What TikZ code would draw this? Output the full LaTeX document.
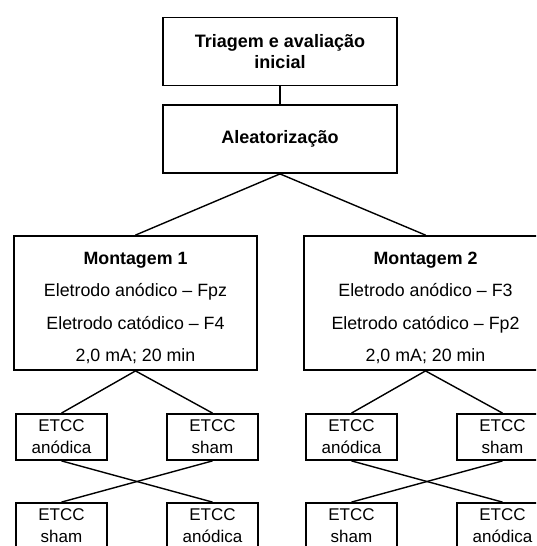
\documentclass[tikz,border=0pt]{standalone}
\usepackage{fontspec}
\setmainfont{Liberation Sans}
\begin{document}
\begin{tikzpicture}[x=1pt,y=-1pt,
  box/.style={draw=black, line width=1.8pt, rectangle, inner sep=0pt, align=center},
  headbox/.style={box, minimum width=234pt, minimum height=68pt, font=\fontsize{18}{21}\selectfont\bfseries},
  mbox/.style={box, minimum width=243pt, minimum height=134pt, font=\fontsize{17.8}{32.5}\selectfont},
  sbox/.style={box, minimum width=91pt, minimum height=46pt, font=\fontsize{17}{22}\selectfont},
  conn/.style={line width=1.4pt}]
\useasboundingbox (0,0) rectangle (536,546);
\clip (0,0) rectangle (536,546);
\node[headbox] (top) at (280,51.5) {Triagem e avaliação\\inicial};
\node[headbox] (ale) at (280,139) {Aleatorização};
\node[mbox] (m1) at (135.5,303) {\rule{0pt}{22pt}\textbf{Montagem 1}\\Eletrodo anódico – Fpz\\Eletrodo catódico – F4\\2,0 mA; 20 min};
\node[mbox] (m2) at (425.5,303) {\rule{0pt}{22pt}\textbf{Montagem 2}\\Eletrodo anódico – F3\\Eletrodo catódico – Fp2\\2,0 mA; 20 min};
\node[sbox] (a1) at (61.5,437) {ETCC\\anódica};
\node[sbox] (s1) at (212.5,437) {ETCC\\sham};
\node[sbox] (s1b) at (61.5,526) {ETCC\\sham};
\node[sbox] (a1b) at (212.5,526) {ETCC\\anódica};
\node[sbox] (a2) at (351.5,437) {ETCC\\anódica};
\node[sbox] (s2) at (502.5,437) {ETCC\\sham};
\node[sbox] (s2b) at (351.5,526) {ETCC\\sham};
\node[sbox] (a2b) at (502.5,526) {ETCC\\anódica};
\draw[conn] (top.south) -- (ale.north);
\draw[conn] (ale.south) -- (m1.north);
\draw[conn] (ale.south) -- (m2.north);
\draw[conn] (m1.south) -- (a1.north);
\draw[conn] (m1.south) -- (s1.north);
\draw[conn] (a1.south) -- (a1b.north);
\draw[conn] (s1.south) -- (s1b.north);
\draw[conn] (m2.south) -- (a2.north);
\draw[conn] (m2.south) -- (s2.north);
\draw[conn] (a2.south) -- (a2b.north);
\draw[conn] (s2.south) -- (s2b.north);
\end{tikzpicture}
\end{document}
